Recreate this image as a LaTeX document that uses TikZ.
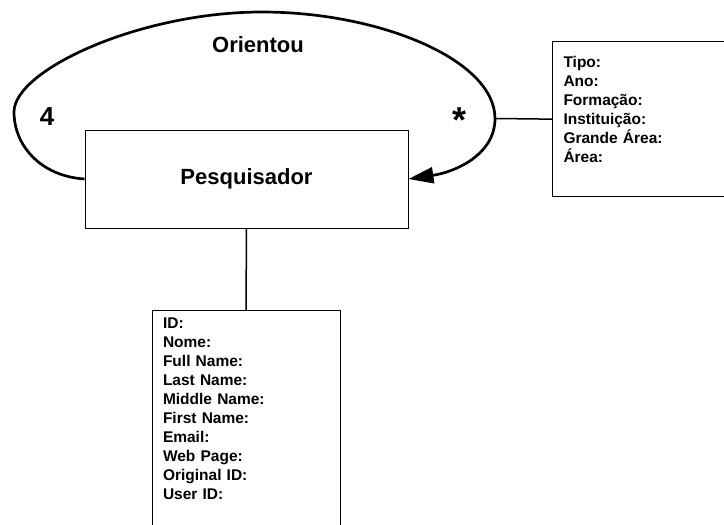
\documentclass[tikz,border=0pt]{standalone}
\usepackage{fontspec}
\setmainfont{Liberation Sans}
\usetikzlibrary{arrows.meta,positioning}

\begin{document}
\begin{tikzpicture}[x=1pt,y=-1pt,
  every node/.style={font=\bfseries},
  entity/.style={draw,line width=1pt,minimum width=323pt,minimum height=98pt,font=\bfseries\fontsize{22}{26}\selectfont},
  attrbox/.style={draw,line width=1pt,align=left,inner xsep=11pt,inner ysep=6pt,font=\bfseries\fontsize{15.5}{19}\selectfont},
  relline/.style={line width=2.7pt},
  link/.style={line width=1.5pt}]
  \clip (0,0) rectangle (724,525);
  % entidade e atributos
  \node[entity] (pesq) at (246.5,179) {Pesquisador};
  \node[attrbox,anchor=north,text width=166pt,text height=12pt,text depth=240pt] (dados) at (246,310)
    {ID:\\Nome:\\Full Name:\\Last Name:\\Middle Name:\\First Name:\\Email:\\Web Page:\\Original ID:\\User ID:};
  \node[attrbox,anchor=north west,text width=200pt,text height=20pt,text depth=123.3pt] (orient) at (552,41)
    {Tipo:\\Ano:\\Formação:\\Instituição:\\Grande Área:\\Área:};
  % auto-relacionamento
  \coordinate (laco) at (495,118.5);
  \draw[relline,-{Triangle[length=25pt,width=16pt]}] (pesq.west)
    .. controls (40,176) and (14,145) .. (14,112)
    .. controls (14,70) and (140,12) .. (262,12)
    .. controls (380,12) and (495,60) .. (laco)
    .. controls (495,155) and (455,172) .. (pesq.east);
  \draw[link] (laco) -- (orient.west);
  \draw[link] (pesq.south) -- (dados.north);
  \node[font=\bfseries\fontsize{22}{26}\selectfont] (rotulo) at (258,45) {Orientou};
  \node[font=\bfseries\fontsize{26}{30}\selectfont] (cardum) at (47,117) {4};
  \node[font=\bfseries\fontsize{36}{40}\selectfont,anchor=base] (cardmuitos) at (460,132) {*};
\end{tikzpicture}
\end{document}
